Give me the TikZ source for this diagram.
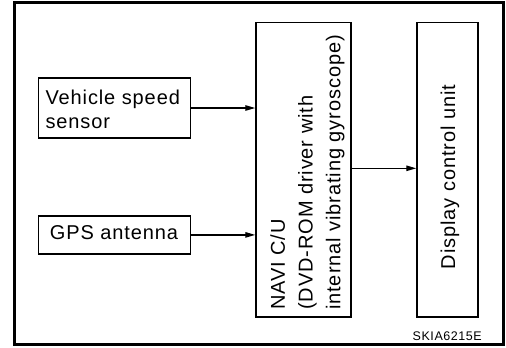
\documentclass[tikz,border=0pt]{standalone}
\usepackage{fontspec}
\setmainfont{Liberation Sans}[LetterSpace=4.5]
\usetikzlibrary{arrows.meta}
\tikzset{
  box/.style={draw=black, line width=1.5pt, rectangle, inner sep=0pt},
  txt/.style={font=\fontsize{20}{27.7}\selectfont, inner sep=0pt, align=left},
  conn/.style={line width=1.2pt, -{Triangle[length=10pt,width=5.5pt]}},
}
\begin{document}
\begin{tikzpicture}[x=1pt,y=-1pt]
\useasboundingbox (0,0) rectangle (506,348);
\draw[line width=3pt] (14.5,2.5) rectangle (503.5,344.5);
% boxes
\node[box, minimum width=152pt, minimum height=60pt] (vss) at (114.7,108) {};
\node[box, minimum width=152pt, minimum height=38.3pt] (gps) at (114.7,234.9) {};
\node[box, minimum width=95pt, minimum height=294.3pt] (navi) at (303.5,169.85) {};
\node[box, minimum width=61pt, minimum height=294.3pt] (disp) at (447.5,169.85) {};
% texts
\node[txt, font=\fontsize{20}{24}\selectfont, anchor=west] (vsst) at (45.3,108.9) {Vehicle speed\\sensor};
\node[txt, anchor=west] (gpst) at (49.7,232.3) {GPS antenna};
\node[txt, rotate=90, anchor=west] (navit) at (307.5,310) {NAVI C/U\\(DVD-ROM driver with\\internal vibrating gyroscope)};
\node[txt, rotate=90, anchor=west] (dispt) at (450,269.3) {Display control unit};
\node[font=\fontsize{12.5}{14}\selectfont, inner sep=0pt, anchor=base east] (code) at (482,340.7) {SKIA6215E};
% connectors
\draw[conn] (vss.east) -- (navi.west |- vss.east);
\draw[conn] (gps.east) -- (navi.west |- gps.east);
\draw[conn] (navi.east |- 0,168.3) -- (disp.west |- 0,168.3);
\end{tikzpicture}
\end{document}
